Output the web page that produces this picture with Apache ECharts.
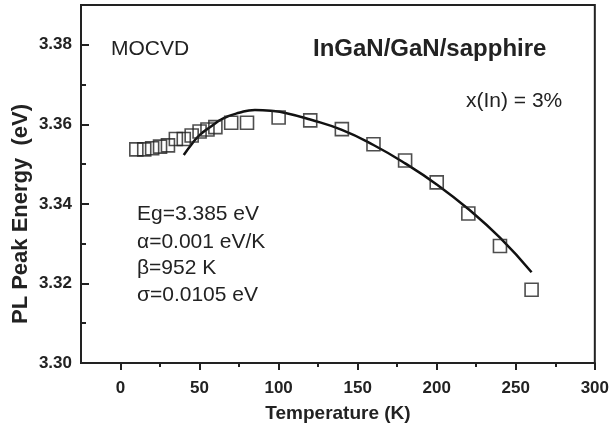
<!DOCTYPE html>
<html>
<head>
<meta charset="utf-8">
<script src="https://cdn.jsdelivr.net/npm/echarts@6/dist/echarts.min.js"></script>
<style>
  html, body { margin: 0; padding: 0; background: #fff; }
  #chart { width: 612px; height: 433px; }
</style>
</head>
<body>
<div id="chart"></div>
<script type="text/javascript">
// measured PL peak energy (open squares)
var tempK = [10, 15, 20, 25, 30, 35, 40, 45, 50, 55, 60, 70, 80, 100, 120, 140, 160, 180, 200, 220, 240, 260];
var peakEv = [3.3537, 3.3537, 3.3540, 3.3544, 3.3547, 3.3563, 3.3563, 3.3572, 3.3582, 3.3587, 3.3593, 3.3604, 3.3604, 3.3617,
              3.3610, 3.3588, 3.3550, 3.3509, 3.3454, 3.3376, 3.3294, 3.3184];

// fitted curve
var fitK = [40, 45, 50, 57, 65, 75, 85, 95, 105, 120, 140, 160, 180, 200, 220, 240, 260];
var fitEv = [3.3523, 3.3550, 3.3573, 3.3594, 3.3615, 3.3629, 3.3636, 3.3634, 3.3628, 3.3612, 3.3586, 3.3548, 3.3502, 3.3449, 3.3387, 3.3315, 3.3228];

// tick labels
var xTicks = [0, 50, 100, 150, 200, 250, 300];
var xMinor = [25, 75, 125, 175, 225, 275];
var yTicks = [3.30, 3.32, 3.34, 3.36, 3.38];
var yMinor = [3.31, 3.33, 3.35, 3.37];

var fontName = '"Liberation Sans", Arial, sans-serif';
var ink = '#222';

var chart = echarts.init(document.getElementById('chart'));

function zip(a, b) {
    var out = [];
    for (var i = 0; i < a.length; i++) out.push([a[i], b[i]]);
    return out;
}

var option = {
    animation: false,
    backgroundColor: '#fff',
    grid: {
        left: 81, right: 17, top: 5, bottom: 70,
        show: true, borderColor: ink, borderWidth: 2, backgroundColor: 'transparent'
    },
    xAxis: [{
        type: 'value', min: -25, max: 300,
        axisLine: { onZero: false, lineStyle: { color: ink, width: 2 } },
        axisTick: { show: true, inside: false, length: 7, customValues: xTicks, lineStyle: { color: ink, width: 2 } },
        axisLabel: { customValues: xTicks, margin: 17, color: ink, fontFamily: fontName, fontWeight: 'bold', fontSize: 17 },
        splitLine: { show: false }
    }, {
        type: 'value', min: -25, max: 300, position: 'bottom',
        axisLine: { show: false, onZero: false },
        axisTick: { show: true, inside: false, length: 4, customValues: xMinor, lineStyle: { color: ink, width: 2 } },
        axisLabel: { show: false },
        splitLine: { show: false }
    }],
    yAxis: [{
        type: 'value', min: 3.30, max: 3.39,
        axisLine: { show: true, onZero: false, lineStyle: { color: ink, width: 2 } },
        axisTick: { show: true, inside: true, length: 8, customValues: yTicks, lineStyle: { color: ink, width: 2 } },
        axisLabel: {
            customValues: yTicks, margin: 9, color: ink, fontFamily: fontName, fontWeight: 'bold', fontSize: 17,
            formatter: function (v) { return v.toFixed(2); }
        },
        splitLine: { show: false }
    }, {
        type: 'value', min: 3.30, max: 3.39, position: 'left',
        axisLine: { show: false, onZero: false },
        axisTick: { show: true, inside: true, length: 5, customValues: yMinor, lineStyle: { color: ink, width: 2 } },
        axisLabel: { show: false },
        splitLine: { show: false }
    }],
    series: [{
        name: 'fit',
        type: 'line',
        smooth: true,
        showSymbol: false,
        data: zip(fitK, fitEv),
        lineStyle: { color: '#111', width: 2.5 },
        z: 3
    }, {
        name: 'PL',
        type: 'scatter',
        symbol: 'rect',
        symbolSize: 13,
        data: zip(tempK, peakEv),
        itemStyle: { color: 'transparent', borderColor: ink, borderWidth: 1.6 },
        z: 4
    }],
    graphic: [
        { type: 'text', x: 338, y: 414, style: { text: 'Temperature (K)', align: 'center', verticalAlign: 'middle', font: 'bold 19px ' + fontName, fill: ink } },
        { type: 'text', x: 21, y: 214, rotation: Math.PI / 2, style: { text: 'PL Peak Energy  (eV)', align: 'center', verticalAlign: 'middle', font: 'bold 22px ' + fontName, fill: ink } },
        { type: 'text', x: 111, y: 49, style: { text: 'MOCVD', verticalAlign: 'middle', font: '21px ' + fontName, fill: ink } },
        { type: 'text', x: 313, y: 49, style: { text: 'InGaN/GaN/sapphire', verticalAlign: 'middle', font: 'bold 24px ' + fontName, fill: ink } },
        { type: 'text', x: 466, y: 101, style: { text: 'x(In) = 3%', verticalAlign: 'middle', font: '21px ' + fontName, fill: ink } },
        { type: 'text', x: 137, y: 214, style: { text: 'Eg=3.385 eV', verticalAlign: 'middle', font: '21px ' + fontName, fill: ink } },
        { type: 'text', x: 137, y: 242, style: { text: 'α=0.001 eV/K', verticalAlign: 'middle', font: '21px ' + fontName, fill: ink } },
        { type: 'text', x: 137, y: 268, style: { text: 'β=952 K', verticalAlign: 'middle', font: '21px ' + fontName, fill: ink } },
        { type: 'text', x: 137, y: 295, style: { text: 'σ=0.0105 eV', verticalAlign: 'middle', font: '21px ' + fontName, fill: ink } }
    ]
};

chart.setOption(option);
</script>
</body>
</html>
